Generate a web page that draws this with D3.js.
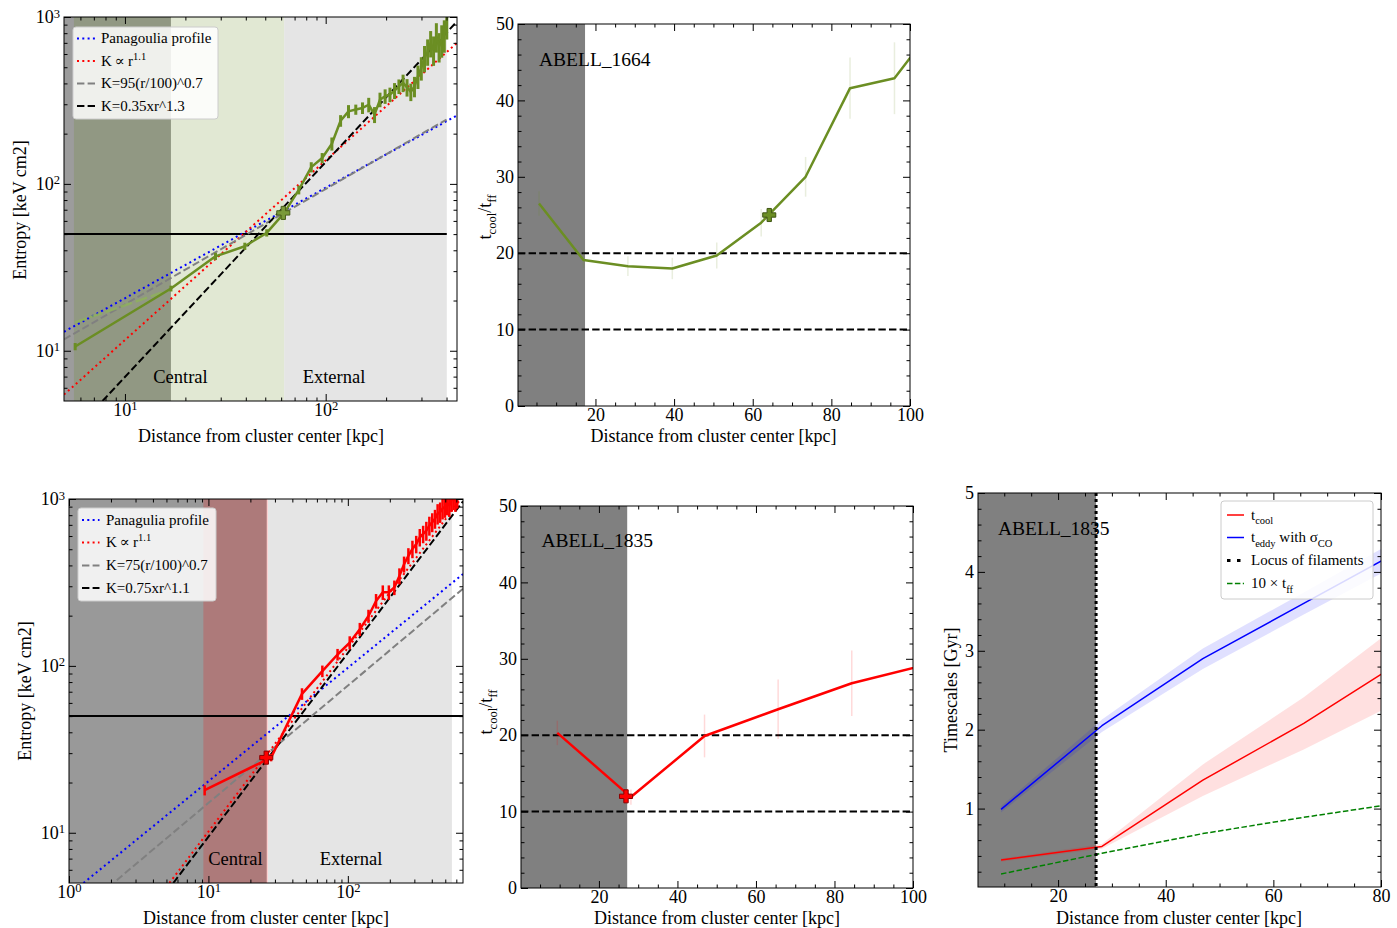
<!DOCTYPE html>
<html><head><meta charset="utf-8">
<script src="https://cdn.jsdelivr.net/npm/d3@7"></script>
<style>
body{margin:0;background:#fff}
svg text{font-family:"Liberation Serif","Times New Roman","DejaVu Serif",serif;fill:#000}
</style>
</head><body>
<svg id="c" width="1397" height="928"></svg>
<script>
// ---------------- DATA ----------------
// ABELL 1664 entropy profile
const rA = [5.65,16.95,28.25,39.55,50.85,62.15,73.45,84.75,96.05,107.35,118.65,129.95,141.25,152.55,163.85,175.15,186.45,197.75,209.05,220.35,231.65,242.95,254.25,265.55,276.85,288.15,299.45,310.75,322.05,333.35,344.65,355.95,367.25,378.55,389.85,401.15];
const kA = [10.6,23.6,36.8,42.3,50.9,67,92,126,143,174,239,272,279,285,298,260,320,335,343,362,384,403,379,356,384,441,495,568,622,698,637,765,667,731,783,964];
const kAerr = [0.05,0.04,0.05,0.05,0.05,0.04,0.06,0.07,0.07,0.09,0.08,0.09,0.07,0.08,0.1,0.11,0.1,0.1,0.1,0.11,0.1,0.12,0.12,0.12,0.14,0.16,0.16,0.18,0.18,0.18,0.2,0.2,0.2,0.22,0.22,0.24];
const altRA = [5.65,16.95];
const altKA = [14.8,23.3];
const markA = {r:61.5, k:67, ratio:25.0, rr:64.2};
// model lines (end points)
const panA = {r:[4.97,451], k:[13.0,257]};
const pow11A = {r:[4.97,451], k:[5.46,700]};
const grayA = {r:[4.97,400], k:[11.7,243]};
const blackA = {r:[7.73,451], k:[5,940]};
// ABELL 1664 tcool/tff
const ratioA = [26.5,19.1,18.3,18.0,19.7,24.0,30.0,41.6,42.9,50.5];
const ratioAerr = [1.6,1.0,1.3,1.4,1.7,1.8,2.6,4.0,4.7,5.0];

// ABELL 1835 entropy profile
const rB = [9.4,28.15,46.9,65.65,84.4,103.15,121.9,140.65,159.4,178.15,196.9,215.65,234.4,253.15,271.9,290.65,309.4,328.15,346.9,365.65,384.4,403.15,421.9,440.65,459.4,478.15,496.9,515.65,534.4,553.15,571.9,590.65,609.4];
const kB = [18,28.2,68,93,117,138,166,199,245,276,276,295,346,407,457,502,537,590,617,646,693,727,762,817,836,877,897,940,918,985,1010,985,1030];
const kBerr = [0.07,0.05,0.08,0.08,0.08,0.09,0.09,0.09,0.1,0.1,0.1,0.1,0.11,0.11,0.11,0.12,0.12,0.12,0.12,0.13,0.13,0.13,0.13,0.14,0.14,0.14,0.14,0.15,0.15,0.15,0.15,0.15,0.15];
const markB = {r:26.0, k:28.2, ratio:12.0, rr:26.9};
const panB = {r:[1.27,670], k:[5,355]};
const pow11B = {r:[5.25,670], k:[5,1041]};
const grayB = {r:[2.2,670], k:[5.2,290]};
const blackB = {r:[5.6,670], k:[5,969]};
// ABELL 1835 tcool/tff
const ratioB = [20.3,11.9,19.9,23.4,26.8,29.2];
const ratioBerr = [1.6,1.0,2.8,3.9,4.3,4.5];
// ABELL 1835 timescales [Gyr]
const rT = [9.4,28.15,46.9,65.65,84.4];
const tCool = [0.347,0.52,1.36,2.08,2.89];
const tCoolErr = [0.02,0.03,0.2,0.33,0.5];
const tEddy = [0.99,2.05,2.90,3.6,4.3];
const tEddyErr = [0.04,0.08,0.13,0.14,0.16];
const tff10 = [0.171,0.433,0.683,0.889,1.08];
const locusR = 27.06;

// tick values
const logMajA = [10,100], logMinA = [6,7,8,9,20,30,40,50,60,70,80,90,200,300,400];
const logMajB = [1,10,100], logMinB = [2,3,4,5,6,7,8,9,20,30,40,50,60,70,80,90,200,300,400,500,600];
const kMaj = [10,100,1000], kMin = [6,7,8,9,20,30,40,50,60,70,80,90,200,300,400,500,600,700,800,900];
const rMaj = [20,40,60,80,100], rMin = [5,10,15,25,30,35,45,50,55,65,70,75,85,90,95];
const ratMaj = [0,10,20,30,40,50], ratMin = [2,4,6,8,12,14,16,18,22,24,26,28,32,34,36,38,42,44,46,48];
const tMajX = [20,40,60,80], tMinX = [10,15,25,30,35,45,50,55,65,70,75];
const tMajY = [1,2,3,4,5], tMinY = [0.2,0.4,0.6,0.8,1.2,1.4,1.6,1.8,2.2,2.4,2.6,2.8,3.2,3.4,3.6,3.8,4.2,4.4,4.6,4.8];

// ---------------- HELPERS ----------------
const svg = d3.select('#c');
const GREEN = '#6b8e23', RED = '#ff0000';
const FS = 18;
let clipN = 0;

function panel(left, top, W, H){
  const id = 'clip'+(clipN++);
  svg.append('clipPath').attr('id', id).append('rect').attr('width', W).attr('height', H);
  const g = svg.append('g').attr('transform', `translate(${left},${top})`);
  const plot = g.append('g').attr('clip-path', `url(#${id})`);
  return {g, plot, W, H};
}

function supLabel(sel, d){
  sel.text('10');
  sel.append('tspan').attr('dy','-0.45em').attr('font-size','0.7em').text(Math.round(Math.log10(d)));
}

function axes(P, x, y, o){
  const {g, W, H} = P;
  const none = () => '';
  const mk = (axisFn, vals, size, fmt, tr, pad) => {
    const a = g.append('g').attr('transform', tr)
      .call(axisFn.tickValues(vals).tickSize(size).tickPadding(pad).tickFormat(fmt));
    a.select('.domain').remove();
    a.selectAll('line').attr('stroke','#000').attr('stroke-width',1);
    a.selectAll('text').attr('font-size', FS+'px').attr('font-family','"Liberation Serif","Times New Roman",serif').attr('fill','#000');
    return a;
  };
  const bx = mk(d3.axisBottom(x), o.xMaj, -7, o.xLog ? none : d3.format('d'), `translate(0,${H})`, 2);
  mk(d3.axisBottom(x), o.xMin, -3.5, none, `translate(0,${H})`, 2);
  mk(d3.axisTop(x), o.xMaj, -7, none, 'translate(0,0)', 4);
  mk(d3.axisTop(x), o.xMin, -3.5, none, 'translate(0,0)', 4);
  const ly = mk(d3.axisLeft(y), o.yMaj, -7, o.yLog ? none : d3.format('d'), 'translate(0,0)', 4);
  mk(d3.axisLeft(y), o.yMin, -3.5, none, 'translate(0,0)', 4);
  mk(d3.axisRight(y), o.yMaj, -7, none, `translate(${W},0)`, 4);
  mk(d3.axisRight(y), o.yMin, -3.5, none, `translate(${W},0)`, 4);
  if (o.xLog) bx.selectAll('.tick text').each(function(d){ supLabel(d3.select(this), d); });
  if (o.yLog) ly.selectAll('.tick text').each(function(d){ supLabel(d3.select(this), d); });
  g.append('rect').attr('width', W).attr('height', H).attr('fill','none').attr('stroke','#000').attr('stroke-width',1);
}

// rich text: segs = [[text, mode]] mode: null|'sub'|'sup'
function rich(parent, x, y, segs, fs, opts={}){
  const t = parent.append('text').attr('x', x).attr('y', y).attr('font-size', fs+'px');
  if (opts.anchor) t.attr('text-anchor', opts.anchor);
  if (opts.transform) t.attr('transform', opts.transform);
  let shift = 0;
  segs.forEach(([s, m]) => {
    const target = m==='sub' ? fs*0.28 : m==='sup' ? -fs*0.42 : 0;
    const ts = t.append('tspan').attr('dy', target - shift).text(s);
    if (m) ts.attr('font-size', (fs*0.7)+'px');
    shift = target;
  });
  return t;
}

function legend(x0, y0, w, h, rows, items, lx0, lx1, tx, fs){
  const g = svg.append('g');
  g.append('rect').attr('x', x0).attr('y', y0).attr('width', w).attr('height', h).attr('rx', 3)
    .attr('fill','#fff').attr('fill-opacity',0.85).attr('stroke','#cccccc').attr('stroke-width',1);
  items.forEach((it, i) => {
    const yy = rows[i];
    g.append('line').attr('x1', lx0).attr('x2', lx1).attr('y1', yy).attr('y2', yy)
      .attr('stroke', it.color).attr('stroke-width', it.w).attr('stroke-dasharray', it.dash || null);
    rich(g, tx, yy + fs*0.33, it.segs, fs);
  });
}

function pathLine(plot, x, y, rs, vs, color, w, dash, op){
  plot.append('path').datum(d3.zip(rs, vs))
    .attr('d', d3.line().x(d=>x(d[0])).y(d=>y(d[1])))
    .attr('fill','none').attr('stroke', color).attr('stroke-width', w)
    .attr('stroke-dasharray', dash || null).attr('stroke-opacity', op==null?1:op)
    .attr('stroke-linejoin','round');
}

function band(plot, x, y, r0, r1, color, op){
  const [ya, yb] = y.range();
  plot.append('rect').attr('x', x(r0)).attr('width', x(r1)-x(r0))
    .attr('y', Math.min(ya,yb)).attr('height', Math.abs(ya-yb))
    .attr('fill', color).attr('fill-opacity', op);
}

function plusMarker(plot, px, py, fill, stroke){
  plot.append('path').attr('d', d3.symbol().type(d3.symbolCross).size(95)())
    .attr('transform', `translate(${px},${py})`).attr('fill', fill).attr('stroke', stroke).attr('stroke-width', 1);
}

// ---------------- PANEL A: ABELL 1664 entropy ----------------
{
  const P = panel(64, 17, 393, 384);
  const x = d3.scaleLog().domain([4.97, 451]).range([0, P.W]);
  const y = d3.scaleLog().domain([5, 1000]).range([P.H, 0]);
  band(P.plot, x, y, 4.97, 16.95, '#9c9c9c', 1);
  band(P.plot, x, y, 5.57, 62.15, GREEN, 0.2);
  band(P.plot, x, y, 62.15, 401.15, '#d3d3d3', 0.6);
  P.plot.append('line').attr('x1', 0).attr('x2', x(401.15)).attr('y1', y(50)).attr('y2', y(50)).attr('stroke','#000').attr('stroke-width',2);
  pathLine(P.plot, x, y, panA.r, panA.k, 'blue', 2, '2,3.3');
  pathLine(P.plot, x, y, pow11A.r, pow11A.k, 'red', 2, '2,3.3');
  pathLine(P.plot, x, y, grayA.r, grayA.k, '#808080', 2, '7.4,3.2');
  pathLine(P.plot, x, y, blackA.r, blackA.k, '#000', 2, '7.4,3.2');
  pathLine(P.plot, x, y, altRA, altKA, '#8fb35a', 2.5, '12,4', 0.8);
  rA.forEach((r,i)=>{
    P.plot.append('line').attr('x1', x(r)).attr('x2', x(r))
      .attr('y1', y(kA[i]*(1-kAerr[i]))).attr('y2', y(kA[i]*(1+kAerr[i])))
      .attr('stroke', GREEN).attr('stroke-width', 3);
  });
  pathLine(P.plot, x, y, rA, kA, GREEN, 2.5);
  plusMarker(P.plot, x(markA.r), y(markA.k), '#7a9a3a', '#4a5f1c');
  axes(P, x, y, {xMaj: logMajA, xMin: logMinA, yMaj: kMaj, yMin: kMin, xLog: true, yLog: true});
  P.g.append('text').attr('x', 116.5).attr('y', 366).attr('text-anchor','middle').attr('font-size','18.5px').text('Central');
  P.g.append('text').attr('x', 270).attr('y', 366).attr('text-anchor','middle').attr('font-size','18.5px').text('External');
  svg.append('text').attr('x', 261).attr('y', 442).attr('text-anchor','middle').attr('font-size', FS+'px').text('Distance from cluster center [kpc]');
  svg.append('text').attr('transform','translate(26,210) rotate(-90)').attr('text-anchor','middle').attr('font-size', FS+'px').text('Entropy [keV cm2]');
  legend(73, 27, 145, 92, [38.5, 61, 83.5, 106], [
    {color:'blue', w:2, dash:'2,3.3', segs:[['Panagoulia profile',null]]},
    {color:'red', w:2, dash:'2,3.3', segs:[['K\u2009\u221D\u2009r',null],['1.1','sup']]},
    {color:'#808080', w:2, dash:'7.4,3.2', segs:[['K=95(r/100)^0.7',null]]},
    {color:'#000', w:2, dash:'7.4,3.2', segs:[['K=0.35xr^1.3',null]]}
  ], 77, 95, 101, 15);
}

// ---------------- PANEL B: ABELL 1664 tcool/tff ----------------
{
  const P = panel(518, 24, 392, 382);
  const x = d3.scaleLinear().domain([0.3, 100]).range([0, P.W]);
  const y = d3.scaleLinear().domain([0, 50]).range([P.H, 0]);
  band(P.plot, x, y, 0.3, 17.35, '#808080', 1);
  [20,10].forEach(v => P.plot.append('line').attr('x1',0).attr('x2',P.W).attr('y1',y(v)).attr('y2',y(v))
    .attr('stroke','#000').attr('stroke-width',2).attr('stroke-dasharray','7.4,3.2'));
  const rr = rA.slice(0, ratioA.length);
  rr.forEach((r,i)=>{
    P.plot.append('line').attr('x1', x(r)).attr('x2', x(r))
      .attr('y1', y(ratioA[i]-ratioAerr[i])).attr('y2', y(ratioA[i]+ratioAerr[i]))
      .attr('stroke', GREEN).attr('stroke-opacity', 0.15).attr('stroke-width', 1.5);
  });
  pathLine(P.plot, x, y, rr, ratioA, GREEN, 2.5);
  plusMarker(P.plot, x(markA.rr), y(markA.ratio), '#6b8e23', '#3f5514');
  axes(P, x, y, {xMaj: rMaj, xMin: rMin, yMaj: ratMaj, yMin: ratMin});
  svg.append('text').attr('x', 539).attr('y', 65.5).attr('font-size','19.5px').text('ABELL_1664');
  svg.append('text').attr('x', 713.5).attr('y', 442).attr('text-anchor','middle').attr('font-size', FS+'px').text('Distance from cluster center [kpc]');
  rich(svg, 0, 0, [['t',null],['cool','sub'],['/t',null],['ff','sub']], FS, {anchor:'middle', transform:'translate(491,217) rotate(-90)'});
}

// ---------------- PANEL C: ABELL 1835 entropy ----------------
{
  const P = panel(69, 499, 394, 384);
  const x = d3.scaleLog().domain([1, 670]).range([0, P.W]);
  const y = d3.scaleLog().domain([5, 1000]).range([P.H, 0]);
  band(P.plot, x, y, 1, 26.2, '#999999', 1);
  band(P.plot, x, y, 9.2, 26.7, RED, 0.2);
  band(P.plot, x, y, 26.7, 558, '#d3d3d3', 0.6);
  P.plot.append('line').attr('x1', 0).attr('x2', P.W).attr('y1', y(50)).attr('y2', y(50)).attr('stroke','#000').attr('stroke-width',2);
  pathLine(P.plot, x, y, panB.r, panB.k, 'blue', 2, '2,3.3');
  pathLine(P.plot, x, y, grayB.r, grayB.k, '#808080', 2, '7.4,3.2');
  pathLine(P.plot, x, y, pow11B.r, pow11B.k, 'red', 2, '2,3.3');
  pathLine(P.plot, x, y, blackB.r, blackB.k, '#000', 2, '7.4,3.2');
  rB.forEach((r,i)=>{
    P.plot.append('line').attr('x1', x(r)).attr('x2', x(r))
      .attr('y1', y(kB[i]*(1-kBerr[i]))).attr('y2', y(kB[i]*(1+kBerr[i])))
      .attr('stroke', RED).attr('stroke-width', 2.5);
  });
  pathLine(P.plot, x, y, rB, kB, RED, 2.5);
  plusMarker(P.plot, x(markB.r), y(markB.k), '#ff0000', '#8b0000');
  axes(P, x, y, {xMaj: logMajB, xMin: logMinB, yMaj: kMaj, yMin: kMin, xLog: true, yLog: true});
  P.g.append('text').attr('x', 166.5).attr('y', 366).attr('text-anchor','middle').attr('font-size','18.5px').text('Central');
  P.g.append('text').attr('x', 282).attr('y', 366).attr('text-anchor','middle').attr('font-size','18.5px').text('External');
  svg.append('text').attr('x', 266).attr('y', 924).attr('text-anchor','middle').attr('font-size', FS+'px').text('Distance from cluster center [kpc]');
  svg.append('text').attr('transform','translate(31,691) rotate(-90)').attr('text-anchor','middle').attr('font-size', FS+'px').text('Entropy [keV cm2]');
  legend(78, 508, 138, 93, [520, 542.5, 565.5, 588], [
    {color:'blue', w:2, dash:'2,3.3', segs:[['Panagulia profile',null]]},
    {color:'red', w:2, dash:'2,3.3', segs:[['K\u2009\u221D\u2009r',null],['1.1','sup']]},
    {color:'#808080', w:2, dash:'7.4,3.2', segs:[['K=75(r/100)^0.7',null]]},
    {color:'#000', w:2, dash:'7.4,3.2', segs:[['K=0.75xr^1.1',null]]}
  ], 82, 99.5, 106, 15);
}

// ---------------- PANEL D: ABELL 1835 tcool/tff ----------------
{
  const P = panel(521, 506, 392, 382);
  const x = d3.scaleLinear().domain([0.15, 100]).range([0, P.W]);
  const y = d3.scaleLinear().domain([0, 50]).range([P.H, 0]);
  band(P.plot, x, y, 0.15, 27.2, '#808080', 1);
  [20,10].forEach(v => P.plot.append('line').attr('x1',0).attr('x2',P.W).attr('y1',y(v)).attr('y2',y(v))
    .attr('stroke','#000').attr('stroke-width',2).attr('stroke-dasharray','7.4,3.2'));
  const rr = rB.slice(0, ratioB.length);
  rr.forEach((r,i)=>{
    P.plot.append('line').attr('x1', x(r)).attr('x2', x(r))
      .attr('y1', y(ratioB[i]-ratioBerr[i])).attr('y2', y(ratioB[i]+ratioBerr[i]))
      .attr('stroke', RED).attr('stroke-opacity', 0.15).attr('stroke-width', 1.5);
  });
  pathLine(P.plot, x, y, rr, ratioB, RED, 2.5);
  plusMarker(P.plot, x(markB.rr), y(markB.ratio), '#ff0000', '#8b0000');
  axes(P, x, y, {xMaj: rMaj, xMin: rMin, yMaj: ratMaj, yMin: ratMin});
  svg.append('text').attr('x', 541.5).attr('y', 546.5).attr('font-size','19.5px').text('ABELL_1835');
  svg.append('text').attr('x', 717).attr('y', 924).attr('text-anchor','middle').attr('font-size', FS+'px').text('Distance from cluster center [kpc]');
  rich(svg, 0, 0, [['t',null],['cool','sub'],['/t',null],['ff','sub']], FS, {anchor:'middle', transform:'translate(492,712) rotate(-90)'});
}

// ---------------- PANEL E: ABELL 1835 timescales ----------------
{
  const P = panel(978, 493, 403, 394);
  const x = d3.scaleLinear().domain([5.12, 80]).range([0, P.W]);
  const y = d3.scaleLinear().domain([0.006, 5]).range([P.H, 0]);
  band(P.plot, x, y, 5.12, locusR, '#808080', 1);
  const area = (vals, errs) => d3.area().x((d,i)=>x(rT[i])).y0((d,i)=>y(vals[i]-errs[i])).y1((d,i)=>y(vals[i]+errs[i]))(vals);
  P.plot.append('path').attr('d', area(tEddy, tEddyErr)).attr('fill','blue').attr('fill-opacity',0.12);
  P.plot.append('path').attr('d', area(tCool, tCoolErr)).attr('fill','red').attr('fill-opacity',0.12);
  pathLine(P.plot, x, y, rT, tEddy, 'blue', 1.5);
  pathLine(P.plot, x, y, rT, tCool, 'red', 1.5);
  pathLine(P.plot, x, y, rT, tff10, 'green', 1.5, '5.5,2.4');
  P.plot.append('line').attr('x1', x(locusR)).attr('x2', x(locusR)).attr('y1', 0).attr('y2', P.H)
    .attr('stroke','#000').attr('stroke-width',3).attr('stroke-dasharray','3,3');
  axes(P, x, y, {xMaj: tMajX, xMin: tMinX, yMaj: tMajY, yMin: tMinY});
  svg.append('text').attr('x', 998).attr('y', 535).attr('font-size','19.5px').text('ABELL_1835');
  svg.append('text').attr('x', 1179).attr('y', 924).attr('text-anchor','middle').attr('font-size', FS+'px').text('Distance from cluster center [kpc]');
  svg.append('text').attr('transform','translate(957,690) rotate(-90)').attr('text-anchor','middle').attr('font-size', FS+'px').text('Timescales [Gyr]');
  legend(1221, 501, 152, 98, [515, 537.5, 560.5, 583.5], [
    {color:'red', w:1.5, segs:[['t',null],['cool','sub']]},
    {color:'blue', w:1.5, segs:[['t',null],['eddy','sub'],[' with \u03C3',null],['CO','sub']]},
    {color:'#000', w:3, dash:'3.5,6.5', segs:[['Locus of filaments',null]]},
    {color:'green', w:1.5, dash:'5.5,2.4', segs:[['10 \u00D7 t',null],['ff','sub']]}
  ], 1227, 1244, 1251, 15);
}
</script>
</body></html>
